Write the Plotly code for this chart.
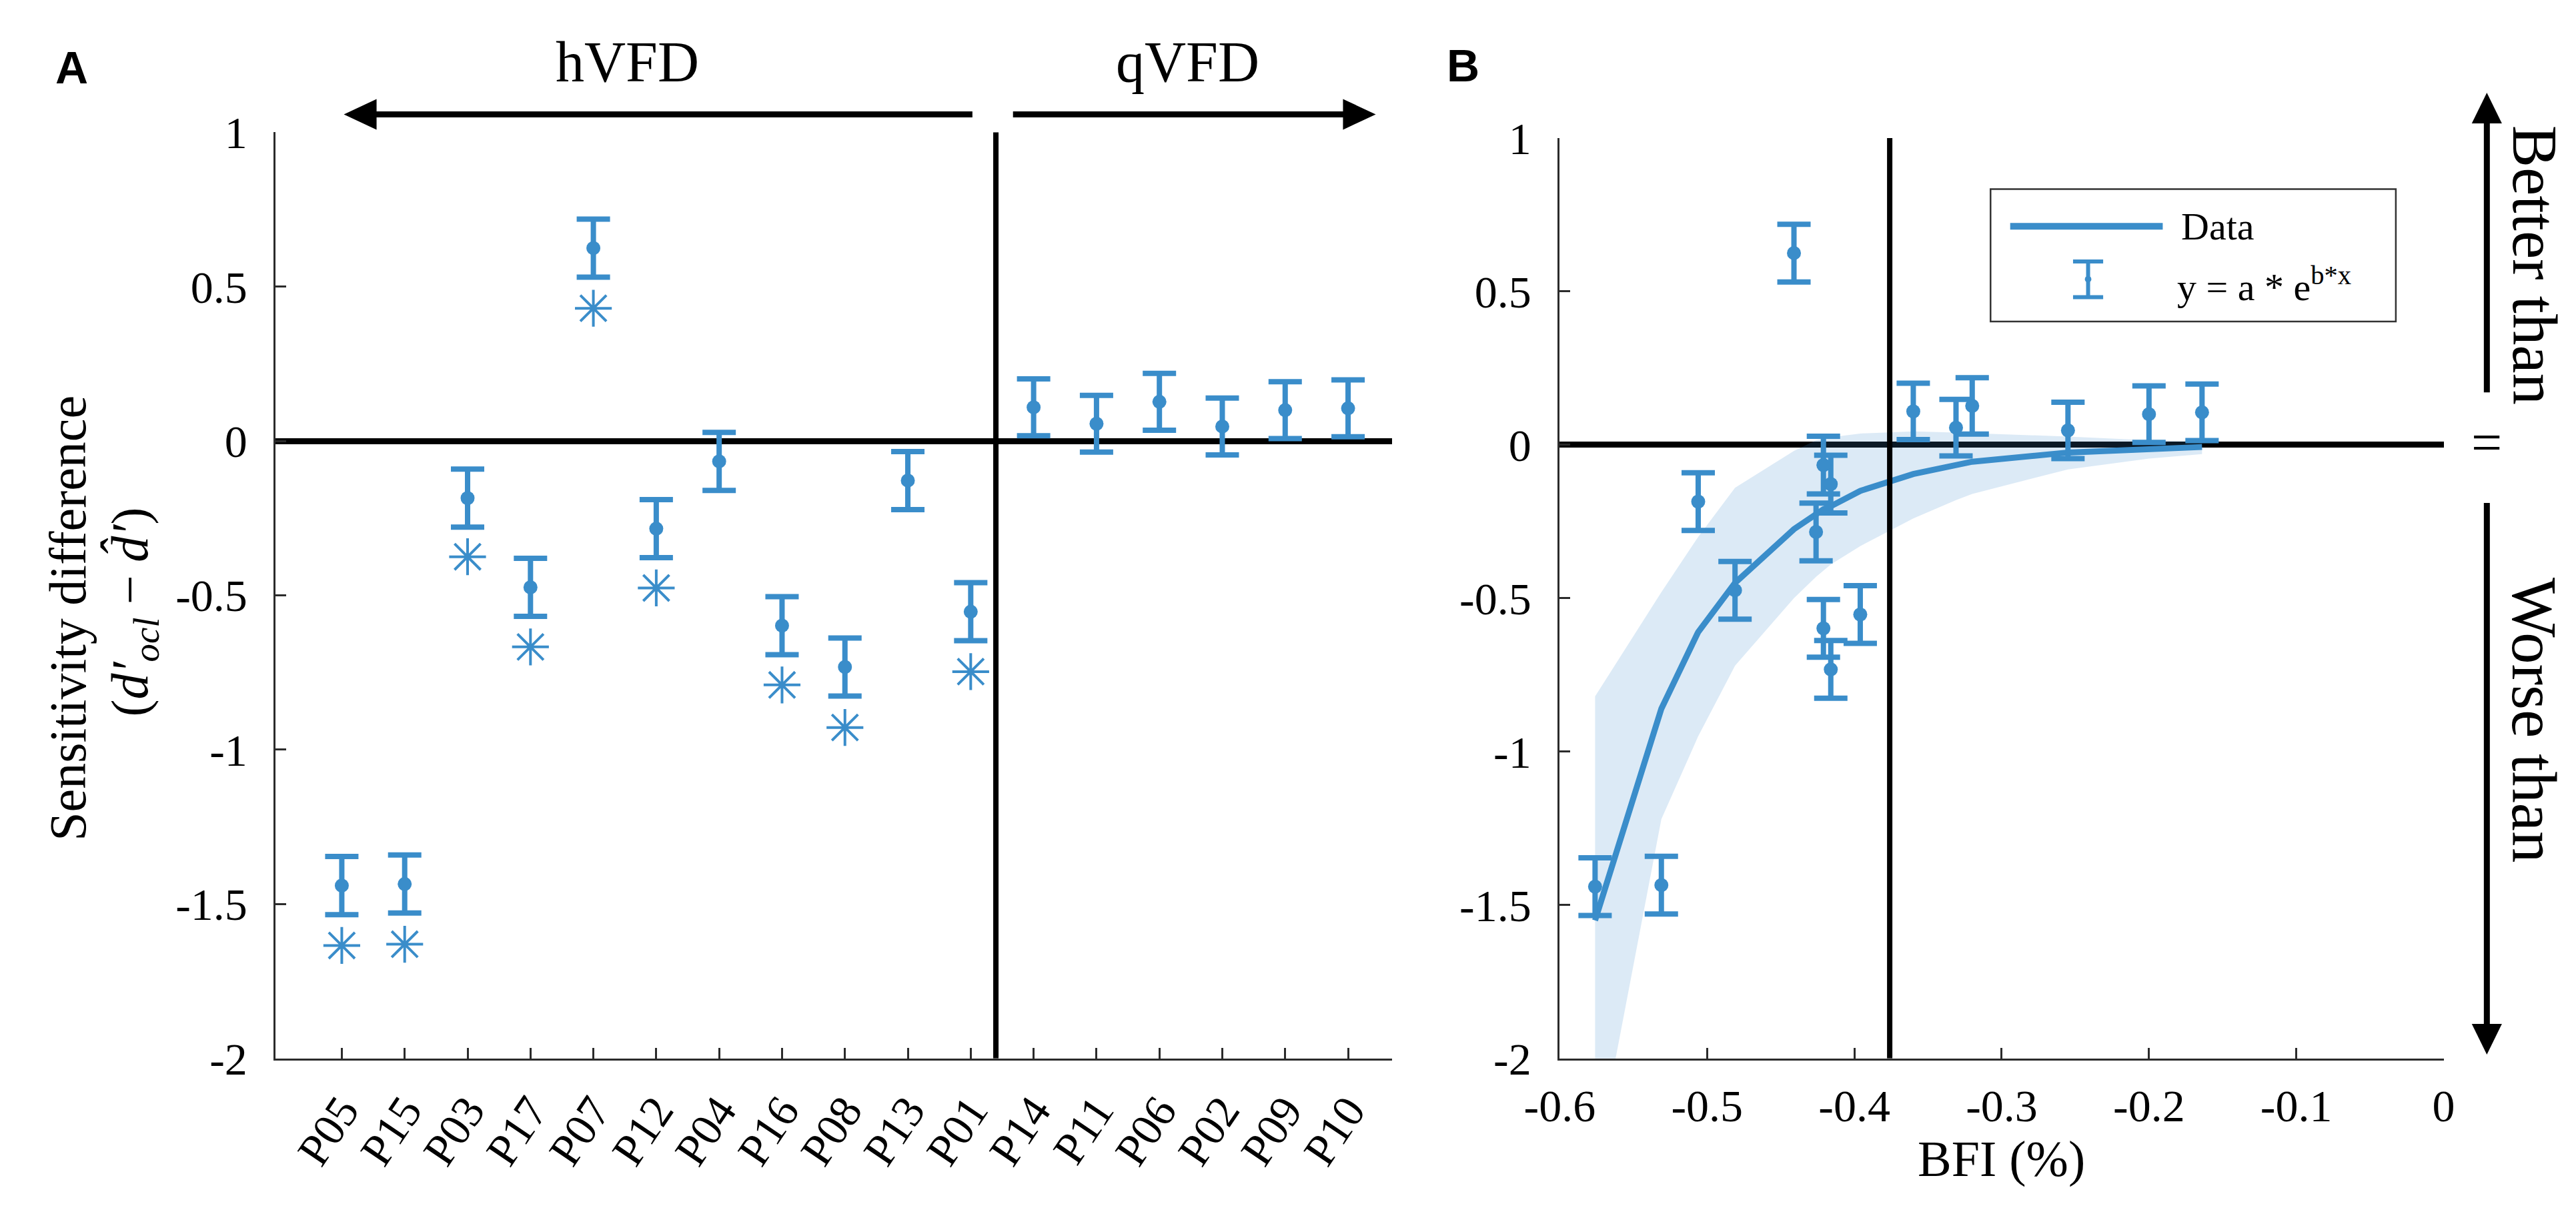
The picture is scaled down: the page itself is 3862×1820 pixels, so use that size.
import plotly.graph_objects as go

# ---- data ----
participants = ["P05", "P15", "P03", "P17", "P07", "P12", "P04", "P16", "P08",
                "P13", "P01", "P14", "P11", "P06", "P02", "P09", "P10"]
sens_diff = [-1.44, -1.435, -0.185, -0.474, 0.625, -0.284, -0.066, -0.598, -0.732,
             -0.128, -0.553, 0.109, 0.056, 0.127, 0.047, 0.100, 0.106]
sens_err = [0.094, 0.094, 0.094, 0.094, 0.094, 0.094, 0.094, 0.094, 0.094,
            0.094, 0.094, 0.092, 0.092, 0.092, 0.092, 0.092, 0.092]
# significance markers (None = no marker)
star_y = [-1.634, -1.63, -0.375, -0.667, 0.43, -0.476, None, -0.79, -0.928,
          None, -0.747, None, None, None, None, None, None]
bfi = [-0.576, -0.531, -0.506, -0.481, -0.441, -0.426, -0.421, -0.421, -0.416,
       -0.416, -0.396, -0.360, -0.331, -0.320, -0.255, -0.200, -0.164]

fit_x = [-0.576, -0.531, -0.506, -0.481, -0.441, -0.426, -0.421, -0.416, -0.396,
         -0.360, -0.331, -0.320, -0.255, -0.200, -0.164]
fit_y = [-1.55, -0.86, -0.61, -0.45, -0.275, -0.225, -0.21, -0.20, -0.15,
         -0.095, -0.065, -0.055, -0.025, -0.012, -0.007]
ci_upper = [-0.82, -0.48, -0.30, -0.14, -0.02, 0.015, 0.02, 0.025, 0.037,
            0.044, 0.04, 0.038, 0.027, 0.015, 0.01]
ci_lower = [-2.35, -1.22, -0.95, -0.72, -0.50, -0.43, -0.41, -0.39, -0.33,
            -0.24, -0.18, -0.16, -0.08, -0.045, -0.03]

y_ticks = [-2, -1.5, -1, -0.5, 0, 0.5, 1]
y_ticktext = ["-2", "-1.5", "-1", "-0.5", "0", "0.5", "1"]
bfi_ticks = [-0.6, -0.5, -0.4, -0.3, -0.2, -0.1, 0]
bfi_ticktext = ["-0.6", "-0.5", "-0.4", "-0.3", "-0.2", "-0.1", "0"]

DIVIDE_A = 10.4     # hVFD / qVFD split
DIVIDE_B = -0.376   # BFI threshold

BLUE = "#3A8DCA"
BAND = "rgba(61,141,203,0.18)"
SERIF = "Liberation Serif, Times New Roman, serif"
AX = "#2b2b2b"

W, H = 3862, 1820


def fx(p):
    return p / W


def fy(p):
    return 1 - p / H


def path(pts):
    return "M " + " L ".join(f"{fx(a):.5f},{fy(b):.5f}" for a, b in pts) + " Z"


idx = list(range(len(participants)))
star_x = [i for i, s in zip(idx, star_y) if s is not None]
star_v = [s for s in star_y if s is not None]

fig = go.Figure()

# panel A
fig.add_trace(go.Scatter(
    x=idx, y=sens_diff, mode="markers", xaxis="x", yaxis="y",
    marker=dict(size=21, color=BLUE),
    error_y=dict(type="data", array=sens_err, color=BLUE, thickness=8, width=25),
    showlegend=False))
fig.add_trace(go.Scatter(
    x=star_x, y=star_v, mode="markers", xaxis="x", yaxis="y",
    marker=dict(symbol="asterisk-open", size=46, color=BLUE,
                line=dict(color=BLUE, width=4)),
    showlegend=False))

# panel B
fig.add_trace(go.Scatter(
    x=fit_x + fit_x[::-1], y=ci_upper + ci_lower[::-1], xaxis="x2", yaxis="y2",
    fill="toself", fillcolor=BAND, line=dict(width=0), mode="lines",
    showlegend=False, hoverinfo="skip"))
fig.add_trace(go.Scatter(
    x=fit_x, y=fit_y, mode="lines", xaxis="x2", yaxis="y2",
    line=dict(color=BLUE, width=9), showlegend=False))
fig.add_trace(go.Scatter(
    x=bfi, y=sens_diff, mode="markers", xaxis="x2", yaxis="y2",
    marker=dict(size=21, color=BLUE),
    error_y=dict(type="data", array=sens_err, color=BLUE, thickness=8, width=25),
    showlegend=False))

tick_font = dict(family=SERIF, size=68, color="black")
axis_common = dict(showgrid=False, showline=True, linecolor=AX, linewidth=3,
                   ticks="inside", ticklen=16, tickwidth=3, tickcolor=AX,
                   tickfont=tick_font)

fig.update_layout(
    width=W, height=H,
    margin=dict(l=0, r=0, t=0, b=0),
    paper_bgcolor="white", plot_bgcolor="white",
    xaxis=dict(domain=[fx(358), fx(2063)], range=[-1.05, 16.7], anchor="y",
               tickvals=idx, ticktext=participants, tickangle=-56,
               zeroline=False, ticklabelstandoff=8, **axis_common),
    yaxis=dict(domain=[fy(1609), fy(160)], range=[-2, 1], anchor="x",
               tickvals=y_ticks, ticktext=y_ticktext,
               zeroline=True, zerolinecolor="black", zerolinewidth=9,
               ticklabelstandoff=26, **axis_common),
    xaxis2=dict(domain=[fx(2319), fx(3669)], range=[-0.6, 0], anchor="y2",
                tickvals=bfi_ticks, ticktext=bfi_ticktext,
                zeroline=False, ticklabelstandoff=10, **axis_common),
    yaxis2=dict(domain=[fy(1609), fy(169)], range=[-2, 1], anchor="x2",
                tickvals=y_ticks, ticktext=y_ticktext,
                zeroline=True, zerolinecolor="black", zerolinewidth=9,
                ticklabelstandoff=26, **axis_common),
)

shapes = [
    dict(type="line", xref="x", yref="y", x0=DIVIDE_A, x1=DIVIDE_A, y0=-2, y1=1,
         line=dict(color="black", width=8)),
    dict(type="line", xref="x2", yref="y2", x0=DIVIDE_B, x1=DIVIDE_B, y0=-2, y1=1,
         line=dict(color="black", width=8)),
    # hVFD / qVFD arrows
    dict(type="line", xref="paper", yref="paper", x0=fx(1422), x1=fx(505),
         y0=fy(132), y1=fy(132), line=dict(color="black", width=9)),
    dict(type="path", xref="paper", yref="paper",
         path=path([(462, 132), (512, 108), (512, 156)]),
         fillcolor="black", line=dict(width=0)),
    dict(type="line", xref="paper", yref="paper", x0=fx(1484), x1=fx(1995),
         y0=fy(132), y1=fy(132), line=dict(color="black", width=9)),
    dict(type="path", xref="paper", yref="paper",
         path=path([(2038, 132), (1988, 108), (1988, 156)]),
         fillcolor="black", line=dict(width=0)),
    # better / worse arrows
    dict(type="line", xref="paper", yref="paper", x0=fx(3735), x1=fx(3735),
         y0=fy(567), y1=fy(140), line=dict(color="black", width=9)),
    dict(type="path", xref="paper", yref="paper",
         path=path([(3735, 98), (3712, 146), (3758, 146)]),
         fillcolor="black", line=dict(width=0)),
    dict(type="line", xref="paper", yref="paper", x0=fx(3735), x1=fx(3735),
         y0=fy(740), y1=fy(1560), line=dict(color="black", width=9)),
    dict(type="path", xref="paper", yref="paper",
         path=path([(3735, 1603), (3712, 1555), (3758, 1555)]),
         fillcolor="black", line=dict(width=0)),
    # legend box for panel B
    dict(type="rect", xref="paper", yref="paper", x0=fx(2977), x1=fx(3596),
         y0=fy(456), y1=fy(249), line=dict(color="#333333", width=2.5),
         fillcolor="white", layer="above"),
    dict(type="line", xref="paper", yref="paper", x0=fx(3007), x1=fx(3240),
         y0=fy(307), y1=fy(307), line=dict(color=BLUE, width=10), layer="above"),
    dict(type="line", xref="paper", yref="paper", x0=fx(3126), x1=fx(3126),
         y0=fy(362), y1=fy(418), line=dict(color=BLUE, width=6), layer="above"),
    dict(type="line", xref="paper", yref="paper", x0=fx(3103), x1=fx(3149),
         y0=fy(362), y1=fy(362), line=dict(color=BLUE, width=6), layer="above"),
    dict(type="line", xref="paper", yref="paper", x0=fx(3103), x1=fx(3149),
         y0=fy(418), y1=fy(418), line=dict(color=BLUE, width=6), layer="above"),
    dict(type="circle", xref="paper", yref="paper", x0=fx(3121), x1=fx(3131),
         y0=fy(395), y1=fy(385), fillcolor=BLUE, line=dict(width=0), layer="above"),
]
fig.update_layout(shapes=shapes)


def note(text, x, y, size, angle=0, family=SERIF, xanchor="center"):
    fig.add_annotation(text=text, x=fx(x), y=fy(y), xref="paper", yref="paper",
                       showarrow=False, textangle=angle, xanchor=xanchor,
                       yanchor="middle",
                       font=dict(family=family, size=size, color="black"))


note("<b>A</b>", 46, 58, 68, family="Liberation Sans, Arial, sans-serif")
note("<b>B</b>", 2171, 55, 68, family="Liberation Sans, Arial, sans-serif")
note("hVFD", 895, 50, 86)
note("qVFD", 1751, 50, 86)
note("Sensitivity difference", 40, 920, 78, angle=-90)
note("(<i>d′</i><sub><i>ocl</i></sub> − <i>d̂′</i>)", 140, 910, 78, angle=-90)
note("BFI (%)", 2994, 1766, 76)
note("Better than", 3808, 368, 95, angle=90)
note("Worse than", 3807, 1080, 95, angle=90)
note("=", 3735, 645, 82)
note("Data", 3266, 307, 58, xanchor="left")
note("y = a * e<sup>b*x</sup>", 3260, 398, 58, xanchor="left")

fig.write_html("out.html")
